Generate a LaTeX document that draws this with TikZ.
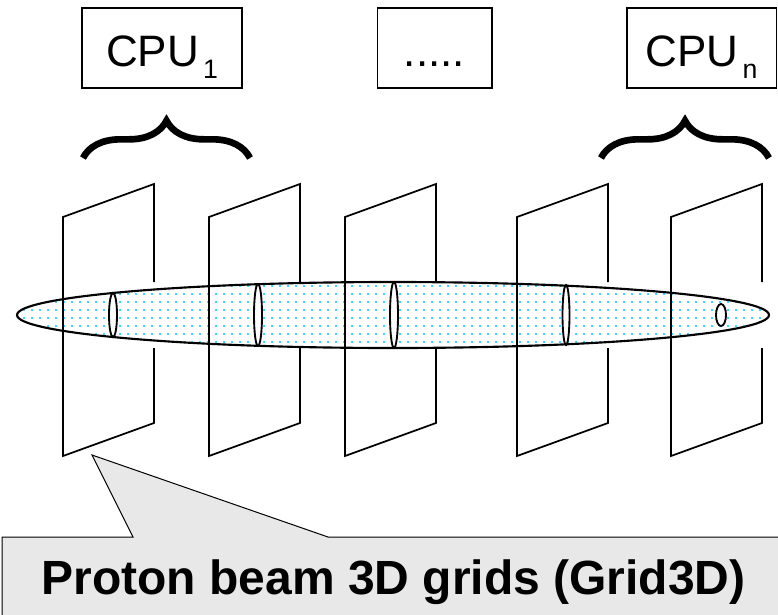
\documentclass[tikz,border=0pt]{standalone}
\usepackage{fontspec}
\setmainfont{Liberation Sans}
\usepackage{tikz}
\usetikzlibrary{positioning, decorations.pathreplacing, patterns.meta}
\usepackage{xcolor}
\definecolor{beamdot}{RGB}{0,200,255}
\definecolor{calloutgray}{RGB}{232,232,232}

\newcommand{\cpulbl}[1]{CPU\hspace{3pt}\raisebox{-9pt}{\fontsize{20}{20}\selectfont #1}}

\begin{document}
\begin{tikzpicture}[x=0.75pt, y=-0.75pt,
      cpu/.style={draw, line width=1pt, minimum height=60pt, inner sep=0pt,
          text height=27pt, text depth=0pt, font=\fontsize{33}{36}\selectfont},
      plane/.style={line width=1.3pt, line join=miter},
      ring/.style={draw, fill=white, line width=1.4pt},
      curly/.style={decorate, decoration={brace, amplitude=28pt}, line width=5pt},
    ]
    \useasboundingbox (0,0) rectangle (778,614);
    \clip (0,0) rectangle (778,614);

    % CPU boxes
    \node[cpu, minimum width=120pt] (cpu1) at (162,48) {\cpulbl{1}};
    \node[cpu, minimum width=86pt] (cpudots) at (434.5,48) {.....};
    \node[cpu, minimum width=112pt] (cpun) at (701.5,48) {\cpulbl{n}};

    % Braces over the grids of each CPU
    \coordinate (brA0) at (83,158);
    \coordinate (brA1) at (250,158);
    \coordinate (brB0) at (601,158);
    \coordinate (brB1) at (769,158);
    \draw[curly] (brA0) -- (brA1);
    \draw[curly] (brB0) -- (brB1);

    % Grid planes, right edge hidden behind the beam
    \foreach \gx in {63,209,345,517,671}{
      \draw[plane] (\gx+91,282) -- (\gx+91,184) -- (\gx,217) -- (\gx,456)
        -- (\gx+91,423) -- (\gx+91,348);
      }

    % Beam
    \fill[white] (393,315) ellipse [x radius=376, y radius=33];
    \fill[pattern={Dots[distance=6pt, radius=0.9pt]}, pattern color=beamdot]
    (393,315) ellipse [x radius=376, y radius=33];
    \draw[line width=1.6pt] (393,315) ellipse [x radius=376, y radius=33];

    % Left edges in front of the beam
    \foreach \gx in {63,209,345,517,671}
    \draw[plane] (\gx,217) -- (\gx,456);

    % Beam cross sections
    \foreach \cx/\rx/\ry in {113/4/22, 258/4/31, 394/4/33, 566/3.5/30, 721/5/11}{
      \draw[ring] (\cx,315) ellipse [x radius=\rx, y radius=\ry];
      }

    % Callout
    \coordinate (tip) at (92,455);
    \draw[fill=calloutgray, line width=0.75pt] (2,537) -- (133,537) -- (tip)
    -- (328,537) -- (800,537) -- (800,660) -- (2,660) -- cycle;
    \node[font=\bfseries\fontsize{36}{40}\selectfont, anchor=base] (gridlbl)
    at (393.5,594) {Proton beam 3D grids (Grid3D)};
  \end{tikzpicture}
\end{document}
